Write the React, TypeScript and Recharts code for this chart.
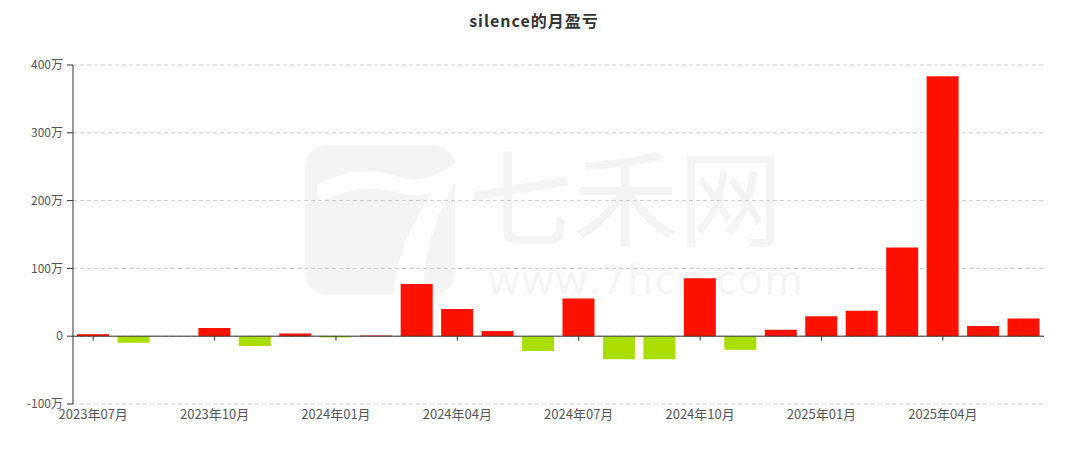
import React from 'react';
import { BarChart, Bar, XAxis, YAxis, CartesianGrid, ReferenceLine, Cell } from 'recharts';

const months = [
  '2023年07月', '2023年08月', '2023年09月', '2023年10月', '2023年11月', '2023年12月',
  '2024年01月', '2024年02月', '2024年03月', '2024年04月', '2024年05月', '2024年06月',
  '2024年07月', '2024年08月', '2024年09月', '2024年10月', '2024年11月', '2024年12月',
  '2025年01月', '2025年02月', '2025年03月', '2025年04月', '2025年05月', '2025年06月',
];

// monthly profit / loss, unit: 万
const profit = [
  3, -9.5, 0, 12, -14.5, 4,
  -2, 1, 77, 40, 7.5, -22,
  55.5, -34, -34, 85.5, -20, 9.5,
  29.5, 37.5, 131, 383.5, 15, 26,
];

const yTicks = [-100, 0, 100, 200, 300, 400];
const tickMonths = months.filter((_, i) => i % 3 === 0);

const data = months.map((m, i) => ({ month: m, value: profit[i] }));

const RED = '#FF1100';
const GREEN = '#AADD00';
const WM = '#f4f4f4';

const fmtY = (v: number) => (v === 0 ? '0' : `${v}万`);

export default function App() {
  return (
    <div style={{ position: 'absolute', left: 0, top: 0, width: 1068, height: 449, background: '#fff' }}>
      {/* watermark logo */}
      <svg style={{ position: 'absolute', left: 305, top: 145 }} width={152} height={152}>
        <rect x={0} y={0} width={150} height={150} rx={22} ry={22} fill={WM} />
        <path d="M 12 40 Q 50 18 95 32 Q 122 40 150 18 L 150 34 Q 124 56 95 48 Q 52 36 14 58 Z" fill="#fff" />
        <path d="M 138 34 L 154 30 Q 118 90 118 152 L 88 152 Q 92 90 138 34 Z" fill="#fff" />
      </svg>
      <div style={{ position: 'absolute', left: 468, top: 140, fontSize: 105, fontFamily: '"Noto Sans CJK SC"', color: WM, lineHeight: 1, whiteSpace: 'nowrap' }}>七禾网</div>
      <div style={{ position: 'absolute', left: 488, top: 258, fontSize: 41, fontFamily: '"Open Sans"', color: WM, letterSpacing: 2, lineHeight: 1, whiteSpace: 'nowrap' }}>www.7hcn.com</div>

      <div style={{ position: 'absolute', left: 0, top: 8, width: 1068, textAlign: 'center', fontFamily: '"Noto Sans CJK SC"', fontWeight: 'bold', fontSize: 16, letterSpacing: 1, color: '#333' }}>
        silence的月盈亏
      </div>

      <div style={{ position: 'absolute', left: 0, top: 0 }}>
        <BarChart
          width={1068}
          height={449}
          data={data}
          margin={{ top: 65, right: 24, bottom: 15, left: 0 }}
          barSize={32}
        >
          <CartesianGrid vertical={false} stroke="#cccccc" strokeDasharray="4 3" />
          <XAxis
            dataKey="month"
            interval={2}
            axisLine={false}
            tickLine={false}
            tickSize={0}
            tickMargin={6}
            height={30}
            tick={{ fill: '#555', fontSize: 13, fontFamily: '"Noto Sans CJK SC"' }}
          />
          <YAxis
            width={73}
            domain={[-100, 400]}
            ticks={yTicks}
            tickFormatter={fmtY}
            axisLine={{ stroke: '#333' }}
            tickLine={{ stroke: '#333' }}
            tickSize={6}
            tickMargin={4}
            tick={{ fill: '#555', fontSize: 12, fontFamily: '"Noto Sans CJK SC"' }}
            allowDataOverflow
          />
          <Bar dataKey="value" isAnimationActive={false}>
            {data.map((d, i) => (
              <Cell key={i} fill={d.value >= 0 ? RED : GREEN} />
            ))}
          </Bar>
          <ReferenceLine y={0} stroke="#333" strokeWidth={1} ifOverflow="extendDomain" />
          {tickMonths.map((m) => (
            <ReferenceLine
              key={m}
              segment={[{ x: m, y: 0 }, { x: m, y: -6.5 }]}
              stroke="#333"
              strokeWidth={1}
            />
          ))}
        </BarChart>
      </div>
    </div>
  );
}
